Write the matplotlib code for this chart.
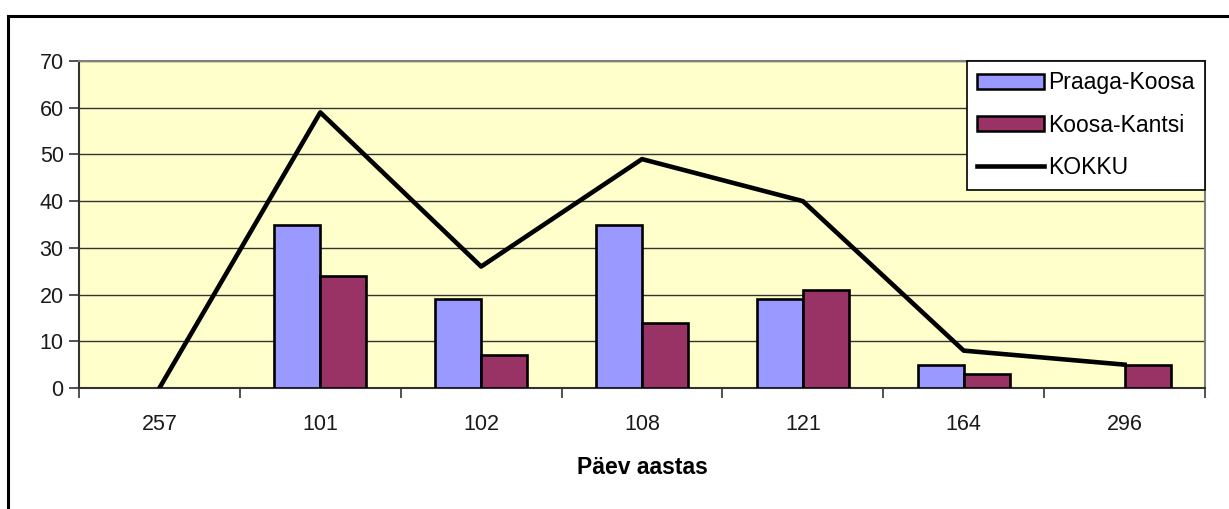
import matplotlib
matplotlib.use("Agg")
import matplotlib.pyplot as plt
import numpy as np
from matplotlib.patches import Rectangle
from matplotlib.lines import Line2D

plt.rcParams['font.family'] = ['Liberation Sans', 'DejaVu Sans']

categories = ["257", "101", "102", "108", "121", "164", "296"]
praaga_koosa = [0, 35, 19, 35, 19, 5, 0]
koosa_kantsi = [0, 24, 7, 14, 21, 3, 5]
kokku = [0, 59, 26, 49, 40, 8, 5]

W, H = 1229, 509
fig = plt.figure(figsize=(W / 100, H / 100), dpi=100)

# outer chart border (top and left visible, rest cropped)
fig.patches.append(Rectangle((8 / W, -0.1), 1.2, (1 - 16 / H) + 0.1, transform=fig.transFigure,
                             fill=False, edgecolor='black', linewidth=2.2, zorder=0))

ax = fig.add_axes([79 / W, (H - 388) / H, 1126 / W, 327 / H])
ax.set_facecolor('#FFFFCC')

x = np.arange(len(categories))
bw = 1 / 3.5
b1 = ax.bar(x - bw / 2, praaga_koosa, width=bw, color='#9999FF', edgecolor='black', linewidth=1.9,
            label='Praaga-Koosa', zorder=3)
b2 = ax.bar(x + bw / 2, koosa_kantsi, width=bw, color='#993366', edgecolor='black', linewidth=1.9,
            label='Koosa-Kantsi', zorder=3)
for p in list(b1) + list(b2):
    if p.get_height() == 0:
        p.set_visible(False)
ax.plot(x, kokku, color='black', linewidth=3.3, label='KOKKU', zorder=4)

ax.set_xlim(-0.5, len(categories) - 0.5)
ax.set_ylim(0, 70)
ax.set_yticks(range(0, 71, 10))
ax.yaxis.grid(True, color='#333333', linewidth=1.0, zorder=1)
ax.set_axisbelow(True)

ax.set_xticks(np.arange(-0.5, len(categories), 1.0))
ax.set_xticklabels([])
ax.set_xticks(x, minor=True)
ax.set_xticklabels(categories, minor=True)
ax.tick_params(axis='x', which='major', direction='out', length=7, width=1.2, color='#333333')
ax.tick_params(axis='x', which='minor', length=0, pad=19, labelsize=15.5, labelcolor='#1a1a1a')
ax.tick_params(axis='y', direction='out', length=7, width=1.2, color='#333333', labelsize=15.5,
               labelcolor='#1a1a1a', pad=4)

for s in ['top', 'right']:
    ax.spines[s].set_color('#808080')
    ax.spines[s].set_linewidth(1.5)
for s in ['left', 'bottom']:
    ax.spines[s].set_color('#333333')
    ax.spines[s].set_linewidth(1.5)

ax.set_xlabel('Päev aastas', fontsize=16.5, fontweight='bold', labelpad=15)

handles = [Rectangle((0, 0), 1, 1, facecolor='#9999FF', edgecolor='black', linewidth=1.8),
           Rectangle((0, 0), 1, 1, facecolor='#993366', edgecolor='black', linewidth=1.8),
           Line2D([0], [0], color='black', linewidth=3.3)]
leg = ax.legend(handles, ['Praaga-Koosa', 'Koosa-Kantsi', 'KOKKU'], loc='upper right',
                bbox_to_anchor=(1.0, 1.0), fontsize=16.5, frameon=True, fancybox=False,
                borderaxespad=0, handlelength=2.9, handleheight=0.65, handletextpad=0.2,
                labelspacing=0.85, borderpad=0.45)
leg.get_frame().set_edgecolor('black')
leg.get_frame().set_linewidth(1.2)
leg.get_frame().set_facecolor('white')
leg.get_frame().set_alpha(1)

fig.savefig('out.png', dpi=100)
